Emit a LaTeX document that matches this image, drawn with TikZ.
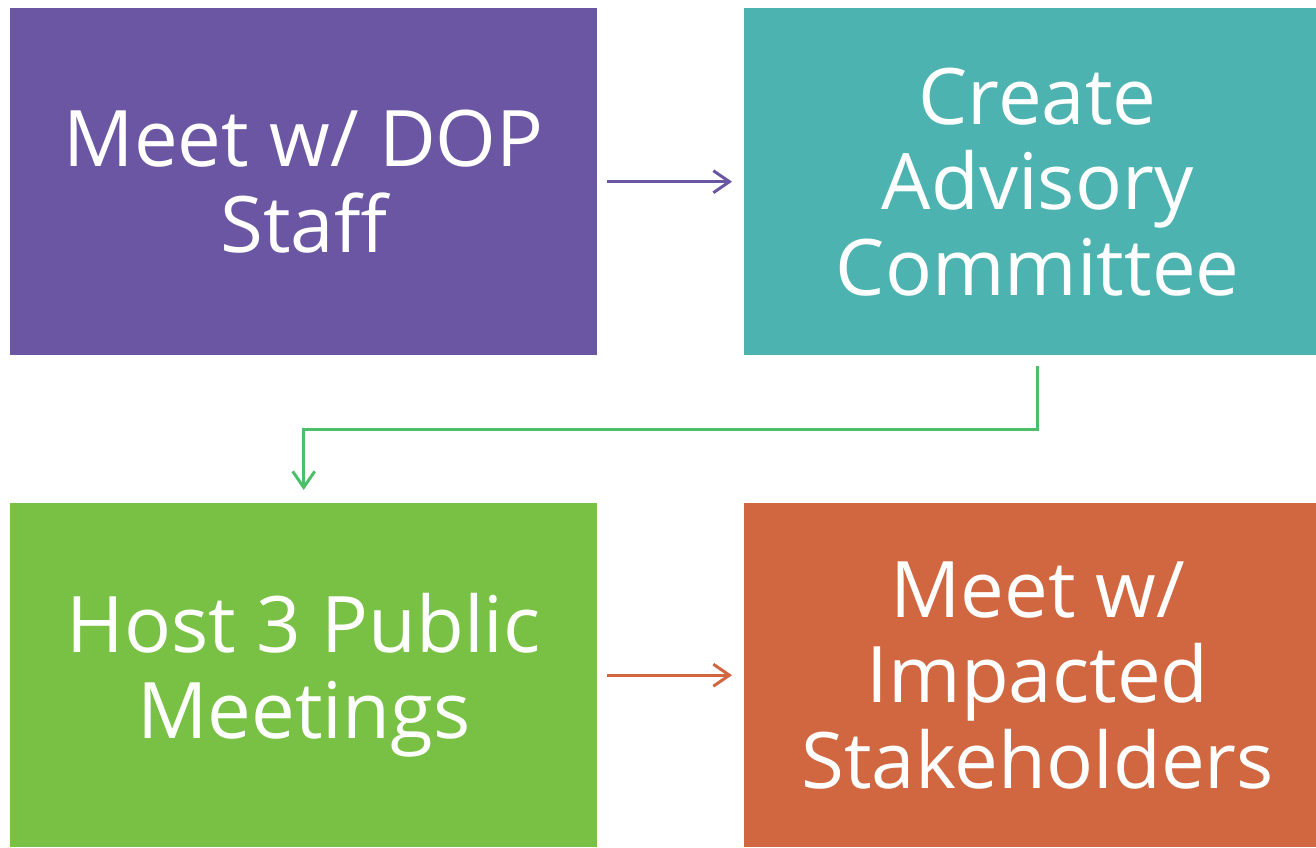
\documentclass[tikz,border=0pt]{standalone}
\usepackage{fontspec}
\setmainfont{Open Sans}
\usetikzlibrary{arrows.meta}
\definecolor{cpurple}{HTML}{6B56A3}
\definecolor{cteal}{HTML}{4DB3B0}
\definecolor{cgreen}{HTML}{79C144}
\definecolor{corange}{HTML}{D06740}
\definecolor{cline}{HTML}{4CBF6B}
\tikzset{
  stepbox/.style={draw=none, minimum width=587pt, minimum height=347pt, inner sep=0pt,
    text=white, align=center, font=\fontsize{78}{85.5}\selectfont, anchor=north west},
  conn/.style={line width=3pt, -{Straight Barb[length=16pt,width=22pt,line width=3pt]}}
}
\begin{document}
\begin{tikzpicture}[x=1pt,y=-1pt]
\useasboundingbox (0,0) rectangle (1316,847);
\node[stepbox, fill=cpurple] (b1) at (10,8) {Meet w/ DOP\\Staff};
\node[stepbox, fill=cteal] (b2) at (744,8) {Create\\Advisory\\Committee};
\node[stepbox, fill=cgreen, minimum height=344pt] (b3) at (10,503) {Host 3 Public\\Meetings};
\node[stepbox, fill=corange, minimum height=344pt] (b4) at (744,503) {Meet w/\\Impacted\\Stakeholders};
\coordinate (m) at (0,429);
\draw[conn, draw=cpurple, shorten <=10pt, shorten >=12pt] (b1.east) -- (b2.west);
\draw[conn, draw=corange, shorten <=10pt, shorten >=12pt] (b3.east) -- (b4.west);
\draw[conn, draw=cline, shorten <=11pt, shorten >=13pt] (b2.south) -- (b2.south |- m) -| (b3.north);
\end{tikzpicture}
\end{document}
